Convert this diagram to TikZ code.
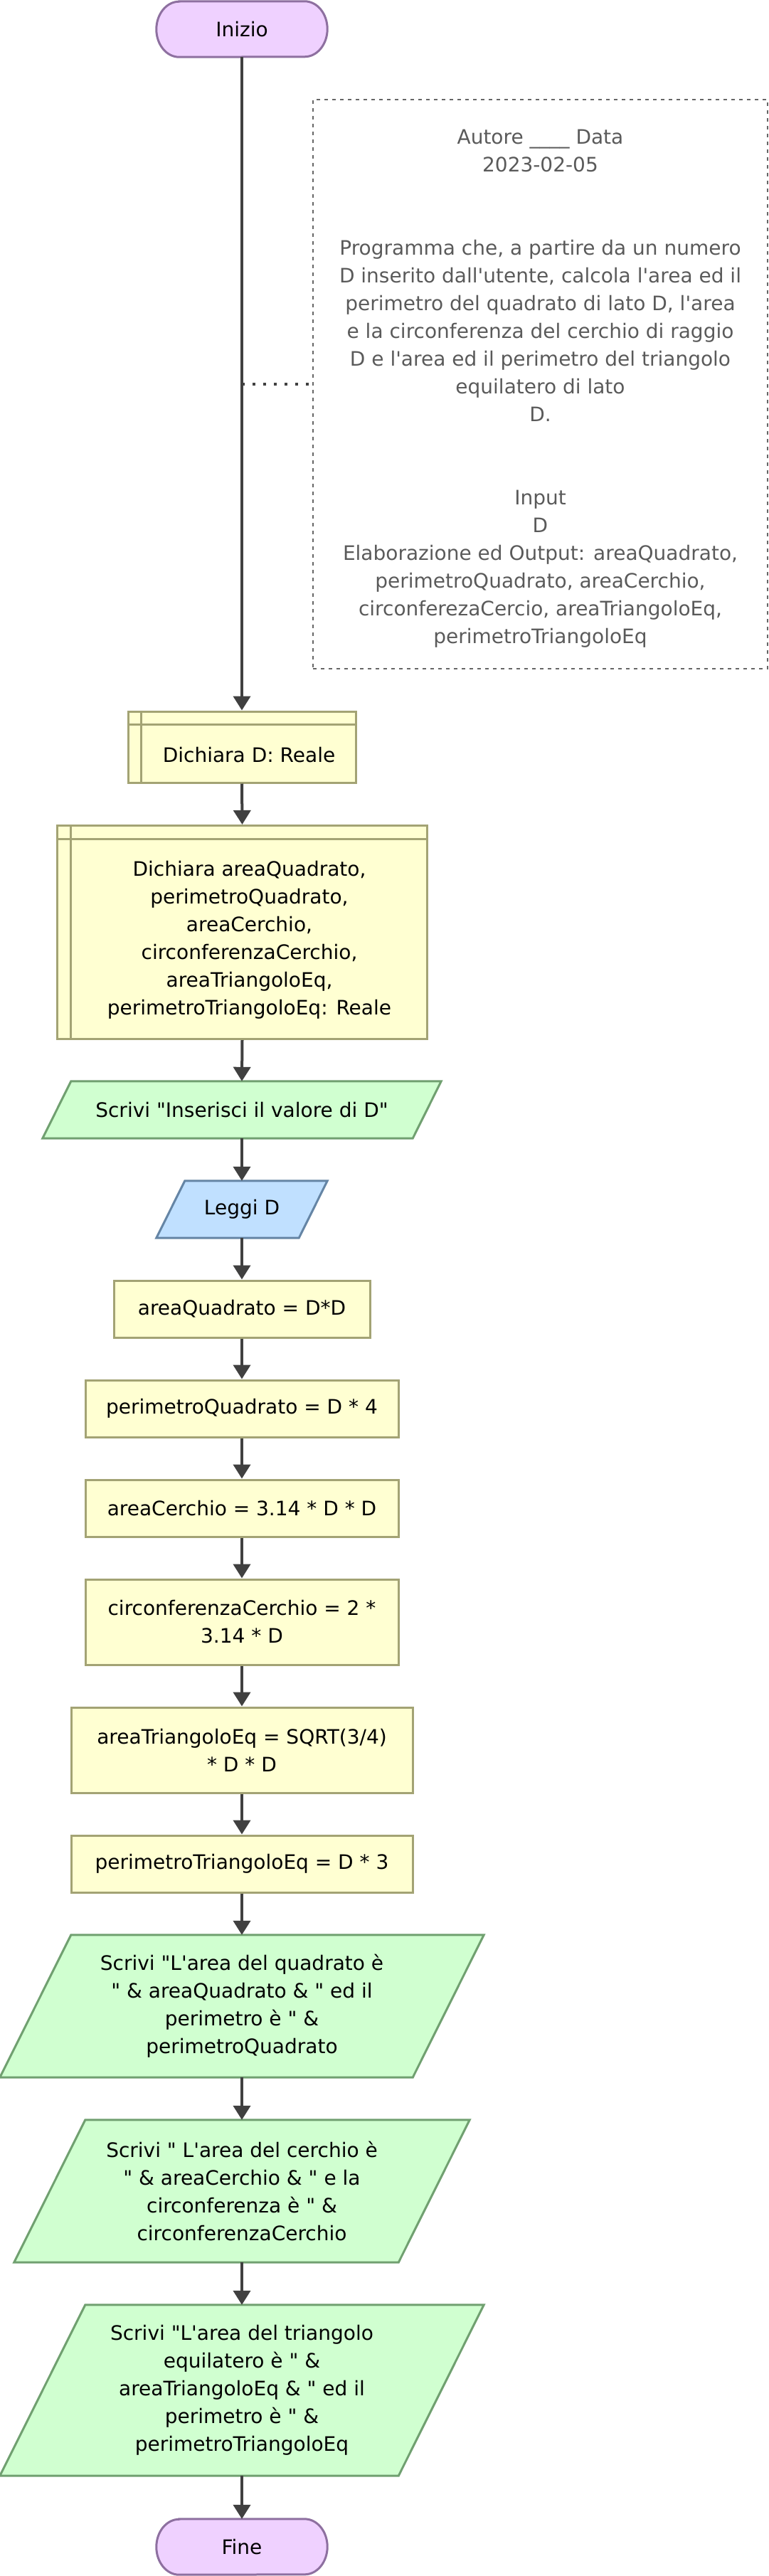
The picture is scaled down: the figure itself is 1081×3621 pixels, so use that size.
\documentclass[tikz,border=0pt]{standalone}
\usepackage{fontspec}
\setmainfont{DejaVu Sans}[Ligatures=TeXOff]
\usetikzlibrary{arrows.meta,backgrounds}
\definecolor{termfill}{HTML}{EFD1FF}
\definecolor{termdraw}{HTML}{8E70A0}
\definecolor{procfill}{HTML}{FFFFD2}
\definecolor{procdraw}{HTML}{A3A374}
\definecolor{outfill}{HTML}{D0FFD0}
\definecolor{outdraw}{HTML}{70A070}
\definecolor{infill}{HTML}{C0E0FF}
\definecolor{indraw}{HTML}{6585A5}
\definecolor{flow}{HTML}{404040}
\definecolor{cmtline}{HTML}{666666}
\definecolor{cmttext}{HTML}{5A5A5A}
\newcommand\drawpara[4]{\begin{scope}[on background layer]
  \path[fill=#3,draw=#4,line width=3pt] ([xshift=#2pt]#1.north west) -- (#1.north east)
    -- ([xshift=-#2pt]#1.south east) -- (#1.south west) -- cycle;\end{scope}}
\newcommand\drawterm[1]{\begin{scope}[on background layer]
  \path[fill=termfill,draw=termdraw,line width=3pt] ([xshift=32pt]#1.north west) -- ([xshift=-32pt]#1.north east)
    arc[start angle=90,end angle=-90,x radius=32pt,y radius=39pt]
    -- ([xshift=32pt]#1.south west)
    arc[start angle=270,end angle=90,x radius=32pt,y radius=39pt] -- cycle;\end{scope}}
\newcommand\drawdecl[1]{\draw[procdraw,line width=3pt]
  ([yshift=-20pt]#1.north west) -- ([yshift=-20pt]#1.north east)
  ([xshift=20pt]#1.north west) -- ([xshift=20pt]#1.south west);}
\tikzset{
  shapebox/.style={rectangle, inner sep=0pt, align=center, text=black},
  procbox/.style={shapebox, draw=procdraw, fill=procfill, line width=3pt},
  parabox/.style={shapebox},
  flowline/.style={draw=flow, line width=4pt, -{Triangle[length=20pt,width=24pt]}},
  dotline/.style={draw=flow, line width=4pt, dash pattern=on 4pt off 11pt},
  cmtbox/.style={rectangle, inner sep=0pt, draw=cmtline, line width=2.5pt, dash pattern=on 5pt off 6pt},
  cmtlabel/.style={inner sep=0pt, align=center, text=cmttext}
}
\begin{document}
\begin{tikzpicture}[x=1pt,y=-1pt,font=\fontsize{28}{39}\selectfont]
\useasboundingbox (0,0) rectangle (1081,3621);
% nodes
\node[shapebox, minimum width=240pt, minimum height=78pt] (start) at (340,41) {Inizio};
\drawterm{start}
\node[cmtbox, minimum width=639pt, minimum height=800pt] (cmt) at (759.5,540) {};
\node[cmtlabel] (cmtt) at (759.5,546) {Autore \_\_\_\_ Data\\ 2023-02-05\\ \mbox{}\\ \mbox{}\\ Programma che, a partire da un numero\\ D inserito dall'utente, calcola l'area ed il\\ perimetro del quadrato di lato D, l'area\\ e la circonferenza del cerchio di raggio\\ D e l'area ed il perimetro del triangolo\\ equilatero di lato\\ D.\\ \mbox{}\\ \mbox{}\\ Input\\ D\\ Elaborazione ed Output: areaQuadrato,\\ perimetroQuadrato, areaCerchio,\\ circonferezaCercio, areaTriangoloEq,\\ perimetroTriangoloEq};
\coordinate (dj) at (340,540);

\node[procbox, minimum width=320pt, minimum height=100pt] (decl1) at (340,1050) {};
\drawdecl{decl1}
\node[shapebox] (decl1t) at (350,1061) {Dichiara D: Reale};

\node[procbox, minimum width=520pt, minimum height=300pt] (decl2) at (340.5,1310.5) {};
\drawdecl{decl2}
\node[shapebox] (decl2t) at (350.5,1321.5) {Dichiara areaQuadrato,\\ perimetroQuadrato,\\ areaCerchio,\\ circonferenzaCerchio,\\ areaTriangoloEq,\\ perimetroTriangoloEq: Reale};

\node[parabox, minimum width=560pt, minimum height=80pt] (out0) at (340,1560) {Scrivi "Inserisci il valore di D"};
\drawpara{out0}{40}{outfill}{outdraw}

\node[parabox, minimum width=240pt, minimum height=80pt] (in0) at (340,1700) {Leggi D};
\drawpara{in0}{40}{infill}{indraw}

\node[procbox, minimum width=360pt, minimum height=80pt] (p1) at (340,1840) {areaQuadrato = D*D};
\node[procbox, minimum width=440pt, minimum height=80pt] (p2) at (340,1980) {perimetroQuadrato = D * 4};
\node[procbox, minimum width=440pt, minimum height=80pt] (p3) at (340,2120) {areaCerchio = 3.14 * D * D};
\node[procbox, minimum width=440pt, minimum height=120pt] (p4) at (340,2280) {circonferenzaCerchio = 2 *\\ 3.14 * D};
\node[procbox, minimum width=480pt, minimum height=120pt] (p5) at (340,2460) {areaTriangoloEq = SQRT(3/4)\\ * D * D};
\node[procbox, minimum width=480pt, minimum height=80pt] (p6) at (340,2620) {perimetroTriangoloEq = D * 3};

\node[parabox, minimum width=680pt, minimum height=200pt] (out1) at (340,2820) {Scrivi "L'area del quadrato è\\ " \& areaQuadrato \& " ed il\\ perimetro è " \&\\ perimetroQuadrato};
\drawpara{out1}{100}{outfill}{outdraw}

\node[parabox, minimum width=640pt, minimum height=200pt] (out2) at (340,3080) {Scrivi " L'area del cerchio è\\ " \& areaCerchio \& " e la\\ circonferenza è " \&\\ circonferenzaCerchio};
\drawpara{out2}{100}{outfill}{outdraw}

\node[parabox, minimum width=680pt, minimum height=240pt] (out3) at (340,3360) {Scrivi "L'area del triangolo\\ equilatero è " \&\\ areaTriangoloEq \& " ed il\\ perimetro è " \&\\ perimetroTriangoloEq};
\drawpara{out3}{120}{outfill}{outdraw}

\node[shapebox, minimum width=240pt, minimum height=78pt] (end) at (340,3580) {Fine};
\drawterm{end}

% connectors
\draw[flowline] (start.south) -- (decl1.north);
\draw[dotline] (dj) -- (cmt.west);
\draw[flowline] (decl1.south) -- (decl2.north);
\draw[flowline] (decl2.south) -- (out0.north);
\draw[flowline] (out0.south) -- (in0.north);
\draw[flowline] (in0.south) -- (p1.north);
\draw[flowline] (p1.south) -- (p2.north);
\draw[flowline] (p2.south) -- (p3.north);
\draw[flowline] (p3.south) -- (p4.north);
\draw[flowline] (p4.south) -- (p5.north);
\draw[flowline] (p5.south) -- (p6.north);
\draw[flowline] (p6.south) -- (out1.north);
\draw[flowline] (out1.south) -- (out2.north);
\draw[flowline] (out2.south) -- (out3.north);
\draw[flowline] (out3.south) -- (end.north);
\end{tikzpicture}
\end{document}
